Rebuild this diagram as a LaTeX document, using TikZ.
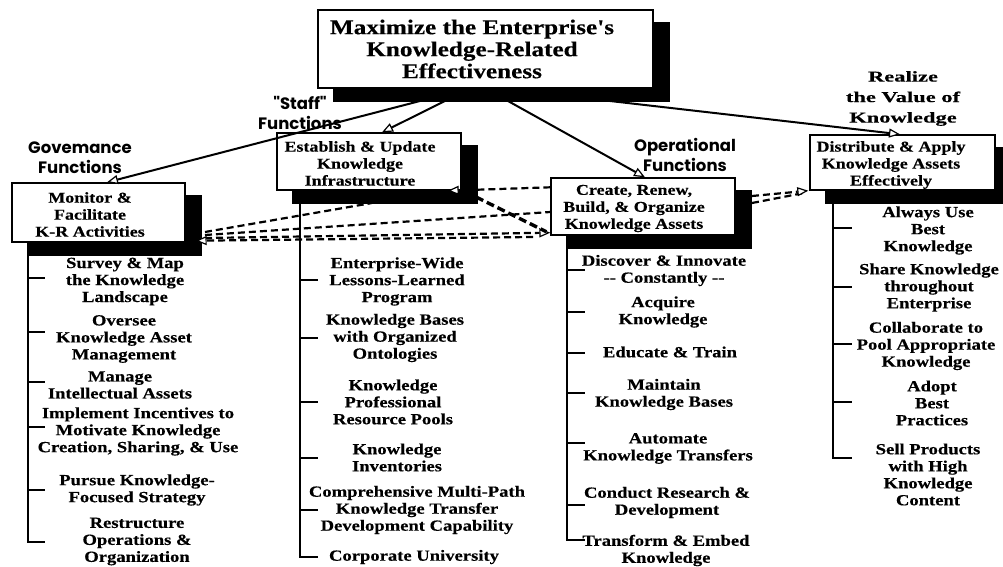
\documentclass[tikz,border=0pt]{standalone}
\usepackage{fontspec}
\usetikzlibrary{arrows.meta}
\newfontfamily\hdserif{Liberation Serif}[FakeStretch=1.2,FakeBold=0.35]
\newfontfamily\wideserif{Liberation Serif}[FakeStretch=1.5,FakeBold=0.35]
\newfontfamily\geosans{Poppins}
\pgfdeclarelayer{back}
\pgfsetlayers{back,main}
\tikzset{
  box/.style={draw, line width=1.4pt, fill=white, inner sep=0pt},
  boxtext/.style={inner sep=0pt, align=center, font=\hdserif\bfseries\fontsize{15}{17}\selectfont},
  toptext/.style={inner sep=0pt, align=center, font=\hdserif\bfseries\fontsize{21}{22}\selectfont},
  item/.style={inner sep=0pt, align=center, font=\hdserif\bfseries\fontsize{15.5}{17}\selectfont},
  grouplabel/.style={inner sep=0pt, align=center, font=\geosans\bfseries\fontsize{16.5}{20.5}\selectfont},
  valuelabel/.style={inner sep=0pt, align=center, font=\wideserif\bfseries\fontsize{15}{20.5}\selectfont},
  openhead/.tip={Triangle[fill=white,length=11pt,width=9pt,line width=1.2pt]},
  link/.style={line width=2pt, -openhead},
  dlink/.style={line width=2.2pt, dash pattern=on 7pt off 4pt},
  dlinkhead/.style={dlink, -openhead},
  heavydash/.style={line width=3.4pt, dash pattern=on 8pt off 4pt},
  spine/.style={line width=2.8pt},
  tick/.style={line width=2.2pt}
}
\begin{document}
\begin{tikzpicture}[x=1pt,y=-1pt]
\useasboundingbox (0,0) rectangle (1003,567);

% ---- boxes ----
\node[box, minimum width=335pt, minimum height=78pt] (top) at (485.5,49) {};
\node[toptext] (topT) at (472,49) {Maximize the Enterprise's\\Knowledge-Related\\Effectiveness};

\node[box, minimum width=173pt, minimum height=59pt] (monitor) at (98.5,212.5) {};
\node[boxtext] (monitorT) at (90,214.5) {Monitor \&\\Facilitate\\K-R Activities};

\node[box, minimum width=184pt, minimum height=57pt] (establish) at (369,161.5) {};
\node[boxtext] (establishT) at (360,163.5) {Establish \& Update\\Knowledge\\Infrastructure};

\node[box, minimum width=184pt, minimum height=57pt] (create) at (643,206.5) {};
\node[boxtext] (createT) at (634,208.5) {Create, Renew,\\Build, \& Organize\\Knowledge Assets};

\node[box, minimum width=185pt, minimum height=55pt] (distribute) at (902.5,162.5) {};
\node[boxtext] (distributeT) at (891,165) {Distribute \& Apply\\Knowledge Assets\\Effectively};

% ---- drop shadows and page ----
\begin{pgfonlayer}{back}
  \fill[white] (0,0) rectangle (1003,567);
  \foreach \b in {top,monitor,establish,create,distribute}
    \fill ([shift={(16,13)}]\b.south west) rectangle ([shift={(16,13)}]\b.north east);
\end{pgfonlayer}

% ---- group labels ----
\node[grouplabel] (govL) at (80,157.5) {Govemance\\Functions};
\node[grouplabel] (staffL) at (300,113) {"Staff"\\Functions};
\node[grouplabel] (opL) at (685,155) {Operational\\Functions};
\node[valuelabel] (valL) at (903,98.5) {Realize\\the Value of\\Knowledge};

% ---- solid links from the goal ----
\coordinate (t1) at (420,101);
\coordinate (t2) at (445,101);
\coordinate (t3) at (508,101);
\coordinate (t4) at (610,101);
\draw[link] (t1) -- ([xshift=8.5pt]monitor.north);
\draw[link] (t2) -- ([xshift=13pt]establish.north);
\draw[link] (t3) -- ([xshift=2pt]create.north);
\draw[link] (t4) -- ([xshift=-2.5pt]distribute.north);

% ---- dashed interactions ----
\coordinate (m1) at (205,232);
\coordinate (m2) at (205,235);
\coordinate (m3) at (205,238);
\coordinate (c4) at (533,237);
\coordinate (eshadow) at (372,203);
\coordinate (ecorner) at (476,197);
\coordinate (cshadow1) at (752,196);
\coordinate (cshadow2) at (752,203);
\draw[dlink] (m1) -- (eshadow);
\draw[dlink] (m2) -- ([yshift=-5.5pt]create.west);
\draw[dlinkhead] (m3) -- ([yshift=3pt]create.south west);
\draw[dlinkhead] (c4) -- ([xshift=10pt,yshift=2pt]monitor.south east);
\draw[heavydash] (ecorner) -- ([xshift=-4pt,yshift=4pt]create.south west);
\draw[dlinkhead] ([yshift=-10pt]create.north west) -- ([xshift=-14pt]establish.south east);
\draw[dlink] (cshadow2) -- ([xshift=-4pt,yshift=-2pt]distribute.south west);
\draw[dlinkhead] (cshadow1) -- ([xshift=-1pt]distribute.south west);

% ---- governance activities ----
\draw[spine] (28,254) |- (45,542);
\foreach \y in {278,332,382,427,490} \draw[tick] (28,\y) -- (45,\y);
\node[item] (g1) at (125,281.5) {Survey \& Map\\the Knowledge\\Landscape};
\node[item] (g2) at (124,339) {Oversee\\Knowledge Asset\\Management};
\node[item] (g3) at (120,385) {Manage\\Intellectual Assets};
\node[item] (g4) at (138,431.5) {Implement Incentives to\\Motivate Knowledge\\Creation, Sharing, \& Use};
\node[item] (g5) at (137,490) {Pursue Knowledge-\\Focused Strategy};
\node[item] (g6) at (137,541.5) {Restructure\\Operations \&\\Organization};

% ---- staff activities ----
\draw[spine] (300,202) |- (318,557);
\foreach \y in {280,338,402,458,510} \draw[tick] (300,\y) -- (318,\y);
\node[item] (s1) at (397,281.5) {Enterprise-Wide\\Lessons-Learned\\Program};
\node[item] (s2) at (395,338) {Knowledge Bases\\with Organized\\Ontologies};
\node[item] (s3) at (393,402) {Knowledge\\Professional\\Resource Pools};
\node[item] (s4) at (397,457.5) {Knowledge\\Inventories};
\node[item] (s5) at (417,510) {Comprehensive Multi-Path\\Knowledge Transfer\\Development Capability};
\node[item] (s6) at (414,557) {Corporate University};

% ---- operational activities ----
\draw[spine] (567,247) |- (585,540);
\foreach \y in {270,312,353,393,443,505} \draw[tick] (567,\y) -- (585,\y);
\node[item] (o1) at (664,270.5) {Discover \& Innovate\\-{}- Constantly -{}-};
\node[item] (o2) at (663,312) {Acquire\\Knowledge};
\node[item] (o3) at (670,352) {Educate \& Train};
\node[item] (o4) at (664,394.5) {Maintain\\Knowledge Bases};
\node[item] (o5) at (668,448.5) {Automate\\Knowledge Transfers};
\node[item] (o6) at (667,502.5) {Conduct Research \&\\Development};
\node[item] (o7) at (666,550.5) {Transform \& Embed\\Knowledge};

% ---- value realization activities ----
\draw[spine] (833,204) |- (852,458);
\foreach \y in {228,287,344,402} \draw[tick] (833,\y) -- (852,\y);
\node[item] (r1) at (928,230.5) {Always Use\\Best\\Knowledge};
\node[item] (r2) at (929,287.5) {Share Knowledge\\throughout\\Enterprise};
\node[item] (r3) at (926,346) {Collaborate to\\Pool Appropriate\\Knowledge};
\node[item] (r4) at (932,403) {Adopt\\Best\\Practices};
\node[item] (r5) at (928,474.5) {Sell Products\\with High\\Knowledge\\Content};
\end{tikzpicture}
\end{document}
